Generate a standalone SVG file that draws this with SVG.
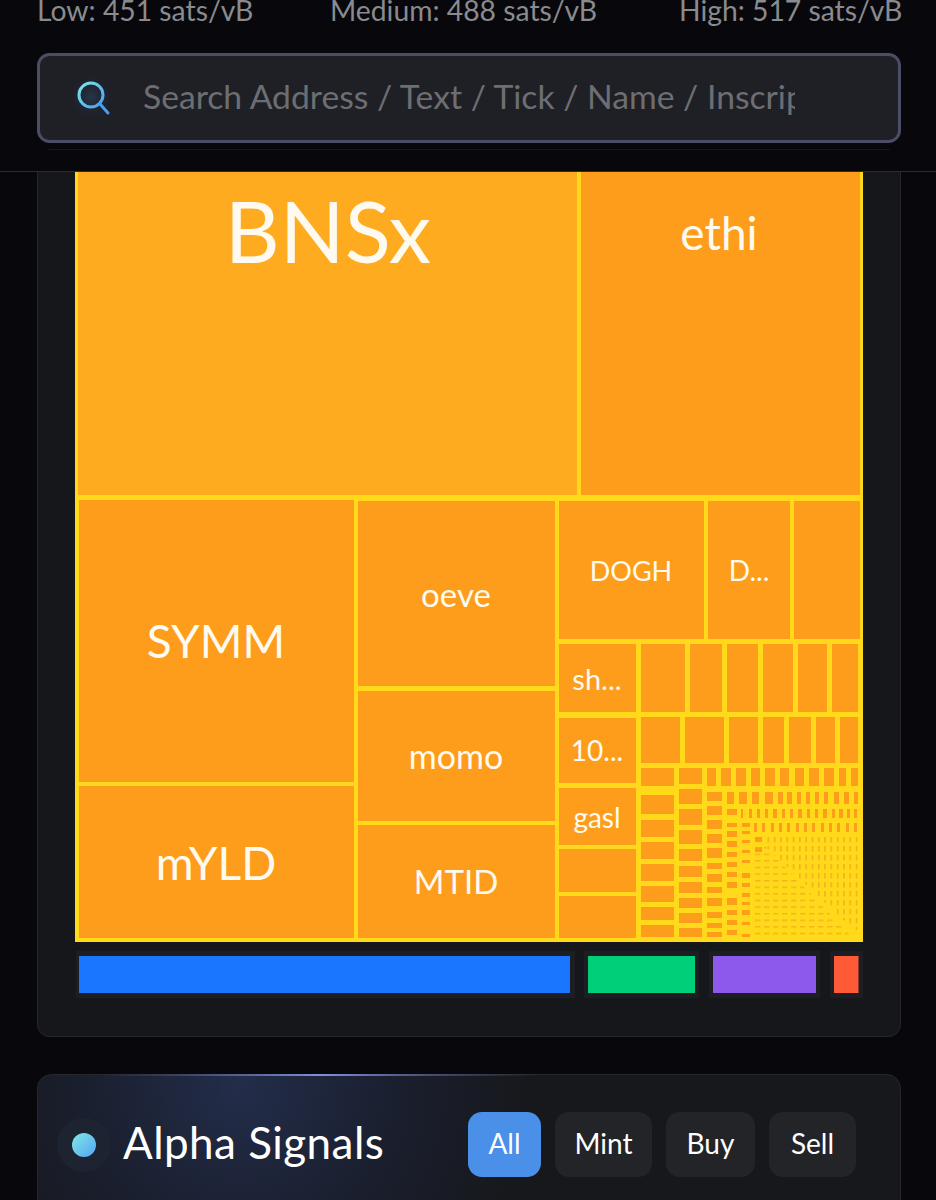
<svg xmlns="http://www.w3.org/2000/svg" width="936" height="1200" viewBox="0 0 936 1200">
<style>
text{font-family:"Lato","Noto Sans","Liberation Sans",sans-serif}
.o{fill:#fe9d1b}
.l{fill:#fffaf0;text-anchor:middle}
.fee{fill:#8a8b8f;font-size:28.300px}
.btn{fill:#232428}
.bt{fill:#fff;font-size:28px;text-anchor:middle}
.track{fill:#1d1e23}
</style>
<defs>
<linearGradient id="icon" x1="0" y1="0" x2="1" y2="1"><stop offset="0" stop-color="#7fe6ea"/><stop offset="1" stop-color="#4a9df0"/></linearGradient>
<linearGradient id="dot" x1="0" y1="0" x2="1" y2="1"><stop offset="0" stop-color="#7fe9e6"/><stop offset="1" stop-color="#55a4f2"/></linearGradient>
<radialGradient id="glow" gradientUnits="userSpaceOnUse" cx="240" cy="1085" r="290"><stop offset="0" stop-color="#232d4a"/><stop offset="0.55" stop-color="#1a1f2e"/><stop offset="1" stop-color="#17181c"/></radialGradient>
<linearGradient id="edge" gradientUnits="userSpaceOnUse" x1="100" y1="0" x2="540" y2="0"><stop offset="0" stop-color="#5a6aa8" stop-opacity="0"/><stop offset="0.5" stop-color="#7f90d8"/><stop offset="1" stop-color="#5a6aa8" stop-opacity="0"/></linearGradient>
<radialGradient id="halo"><stop offset="0" stop-color="#26364a"/><stop offset="1" stop-color="#1b2030" stop-opacity="0"/></radialGradient>
<pattern id="vt" patternUnits="userSpaceOnUse" x="754" y="837" width="6.300" height="9"><rect x="1" y="0" width="1.500" height="5.500" fill="#f5b01c"/></pattern>
<pattern id="ht" patternUnits="userSpaceOnUse" x="755" y="846" width="9" height="6.600"><rect x="0" y="1" width="5.500" height="1.300" fill="#f5b01c"/></pattern>
<clipPath id="ph"><rect x="140" y="70" width="655" height="56"/></clipPath>
</defs>

<rect width="936" height="1200" fill="#08080c"/>

<g id="fees">
<text class="fee" x="37" y="21">Low: 451 sats/vB</text>
<text class="fee" x="330" y="21">Medium: 488 sats/vB</text>
<text class="fee" x="679" y="21">High: 517 sats/vB</text>
</g>

<g id="search">
<rect x="38.500" y="54.500" width="861" height="87" rx="11" fill="#1f2026" stroke="#4b4c66" stroke-width="3"/>
<circle cx="91" cy="97" r="24" fill="url(#halo)"/>
<circle cx="91" cy="95" r="12" fill="none" stroke="url(#icon)" stroke-width="3"/>
<path d="M100 104L108 113" stroke="#4a9df0" stroke-width="3" fill="none" stroke-linecap="round"/>
<text x="143" y="109" font-size="33.700" fill="#6d6e72" clip-path="url(#ph)">Search Address / Text / Tick / Name / Inscrip</text>
</g>

<g id="panel">
<rect x="37.500" y="150" width="863" height="886.500" rx="12" fill="#16171b" stroke="#26272c"/>
<rect x="0" y="150" width="936" height="21" fill="#08080c"/>
<rect x="0" y="171" width="936" height="1" fill="#2a2b30"/>
</g>

<g id="treemap">
<rect x="75" y="172" width="788" height="770" fill="#ffd91a"/>
<g id="n-bnsx"><rect x="78" y="172" width="499" height="323" fill="#ffab1f"/><text class="l" x="328" y="263" font-size="85">BNSx</text></g>
<g id="n-ethi"><rect x="581" y="172" width="279" height="323" class="o"/><text class="l" x="719" y="250" font-size="46">ethi</text></g>
<g id="n-symm"><rect x="79" y="500" width="275" height="282" class="o"/><text class="l" x="216" y="658" font-size="46">SYMM</text></g>
<g id="n-myld"><rect x="79" y="786" width="275" height="152" class="o"/><text class="l" x="216" y="880" font-size="46">mYLD</text></g>
<g id="n-oeve"><rect x="358" y="501" width="197" height="185" class="o"/><text class="l" x="456" y="607" font-size="33">oeve</text></g>
<g id="n-momo"><rect x="358" y="691" width="197" height="130" class="o"/><text class="l" x="456" y="769" font-size="34">momo</text></g>
<g id="n-mtid"><rect x="358" y="825" width="197" height="113" class="o"/><text class="l" x="456" y="894" font-size="33">MTID</text></g>
<g id="n-dogh"><rect x="559" y="501" width="145" height="138" class="o"/><text class="l" x="631" y="581" font-size="27">DOGH</text></g>
<g id="n-d"><rect x="708" y="501" width="82" height="138" class="o"/><text class="l" x="749" y="581" font-size="28">D...</text></g>
<g id="n-blank1"><rect x="794" y="501" width="66" height="138" class="o"/></g>
<g id="n-sh"><rect x="559" y="644" width="77" height="68" class="o"/><text class="l" x="597" y="690" font-size="29">sh...</text></g>
<g id="n-10"><rect x="559" y="718" width="77" height="65" class="o"/><text class="l" x="597" y="761" font-size="28">10...</text></g>
<g id="n-gasl"><rect x="559" y="788" width="77" height="57" class="o"/><text class="l" x="597" y="828" font-size="28">gasl</text></g>
<g id="n-blank2"><rect x="559" y="849" width="77" height="43" class="o"/></g>
<g id="n-blank3"><rect x="559" y="896" width="77" height="42" class="o"/></g>
<path class="o" d="M641 644h44v68h-44zM690 644h32v68h-32zM727 644h31v68h-31zM763 644h30v68h-30zM798 644h29v68h-29zM832 644h26v68h-26z
M641 717h39v46h-39zM685 717h39v46h-39zM729 717h29v46h-29zM763 717h21v46h-21zM789 717h22v46h-22zM816 717h19v46h-19zM840 717h18v46h-18z
M641 768h33v18h-33zM641 795h33v19h-33zM641 820h33v17h-33zM641 842h33v17h-33zM641 864h33v17h-33zM641 886h33v16h-33zM641 907h33v13h-33zM641 925h33v12h-33z
M679 768h23v16h-23zM679 789h23v15h-23zM679 809h23v16h-23zM679 830h23v14h-23zM679 849h23v12h-23zM679 866h23v11h-23zM679 882h23v11h-23zM679 898h23v10h-23zM679 913h23v10h-23zM679 928h23v9h-23z
M707 768h9v18h-9zM721 768h10v18h-10zM736 768h10v18h-10zM751 768h9v18h-9zM765 768h10v18h-10zM780 768h9v18h-9zM795 768h9v18h-9zM809 768h10v18h-10zM824 768h10v18h-10zM839 768h7v18h-7zM851 768h7v18h-7z
M707 792h15v9h-15zM707 806h15v9h-15zM707 820h15v9h-15zM707 834h15v9h-15zM707 848h15v10h-15zM707 863h15v6h-15zM707 874h15v8h-15zM707 887h15v6h-15zM707 898h15v8h-15zM707 912h15v6h-15zM707 923h15v5h-15zM707 932h15v5h-15z
M727 792h7v12h-7zM739 792h8v12h-8zM752 792h7v12h-7zM765 792h8v12h-8zM778 792h5v12h-5zM787 792h5v12h-5zM797 792h4v12h-4zM806 792h4v12h-4zM815 792h4v12h-4zM824 792h4v12h-4zM834 792h5v12h-5zM844 792h5v12h-5zM854 792h4v12h-4z
M727 809h10v6h-10zM727 823h10v4h-10zM727 831h10v6h-10zM727 841h10v6h-10zM727 852h10v5h-10zM727 862h10v5h-10zM727 872h10v5h-10zM727 882h10v6h-10zM727 898h10v7h-10zM727 910h10v5h-10zM727 920h10v5h-10zM727 930h10v5h-10z
M741 809h2v9h-2zM749 809h3v9h-3zM757 809h3v9h-3zM765 809h3v9h-3zM773 809h4v9h-4zM782 809h3v9h-3zM790 809h3v9h-3zM798 809h4v9h-4zM807 809h3v9h-3zM815 809h3v9h-3zM823 809h4v9h-4zM832 809h3v9h-3zM839 809h4v9h-4zM847 809h3v9h-3zM854 809h3v9h-3z
M742 823h8v4h-8zM742 831h8v3h-8zM742 840h8v3h-8zM742 850h8v3h-8zM742 860h8v3h-8zM742 873h8v5h-8zM742 883h8v4h-8zM742 893h8v4h-8zM742 902h8v3h-8zM742 910h8v5h-8zM742 922h8v3h-8zM742 934h8v3h-8z
M754 823h3v9h-3zM762 823h3v9h-3zM771 823h3v9h-3zM779 823h3v9h-3zM787 823h3v9h-3zM796 823h3v9h-3zM804 823h3v9h-3zM812 823h3v9h-3zM821 823h3v9h-3zM829 823h3v9h-3zM837 823h3v9h-3zM846 823h3v9h-3zM854 823h3v9h-3z
M755 837h7v5h-7zM755 847h7v5h-7z"/>
<polygon points="764,837 858,837 858,930 854,930 765,846" fill="url(#vt)"/>
<polygon points="755,846 765,846 852,937 755,937" fill="url(#ht)"/>
</g>

<g id="legend">
<rect x="76" y="951" width="499" height="47" class="track"/><rect x="79" y="956" width="491" height="37" fill="#1a76ff"/>
<rect x="584" y="951" width="115" height="47" class="track"/><rect x="588" y="956" width="107" height="37" fill="#00cf7a"/>
<rect x="709" y="951" width="111" height="47" class="track"/><rect x="713" y="956" width="103" height="37" fill="#8d58ec"/>
<rect x="830" y="951" width="33" height="47" class="track"/><rect x="834" y="956" width="24.500" height="37" fill="#ff5a36"/>
</g>

<g id="alpha">
<rect x="37.500" y="1074.500" width="863" height="140" rx="14" fill="url(#glow)" stroke="#26272c"/>
<rect x="100" y="1074" width="440" height="2" fill="url(#edge)"/>
<circle cx="84" cy="1145" r="27" fill="#1d2330"/>
<circle cx="84" cy="1145" r="12" fill="url(#dot)"/>
<text x="123" y="1159" font-size="44" letter-spacing="0.450" fill="#fff">Alpha Signals</text>
</g>
<g id="btn-all"><rect x="468" y="1112" width="73" height="65" rx="14" fill="#4a8fe8"/><text class="bt" x="504.500" y="1154">All</text></g>
<g id="btn-mint"><rect x="555" y="1112" width="97" height="65" rx="14" class="btn"/><text class="bt" x="603.500" y="1154">Mint</text></g>
<g id="btn-buy"><rect x="666" y="1112" width="89" height="65" rx="14" class="btn"/><text class="bt" x="710.500" y="1154">Buy</text></g>
<g id="btn-sell"><rect x="769" y="1112" width="87" height="65" rx="14" class="btn"/><text class="bt" x="812.500" y="1154">Sell</text></g>
</svg>
